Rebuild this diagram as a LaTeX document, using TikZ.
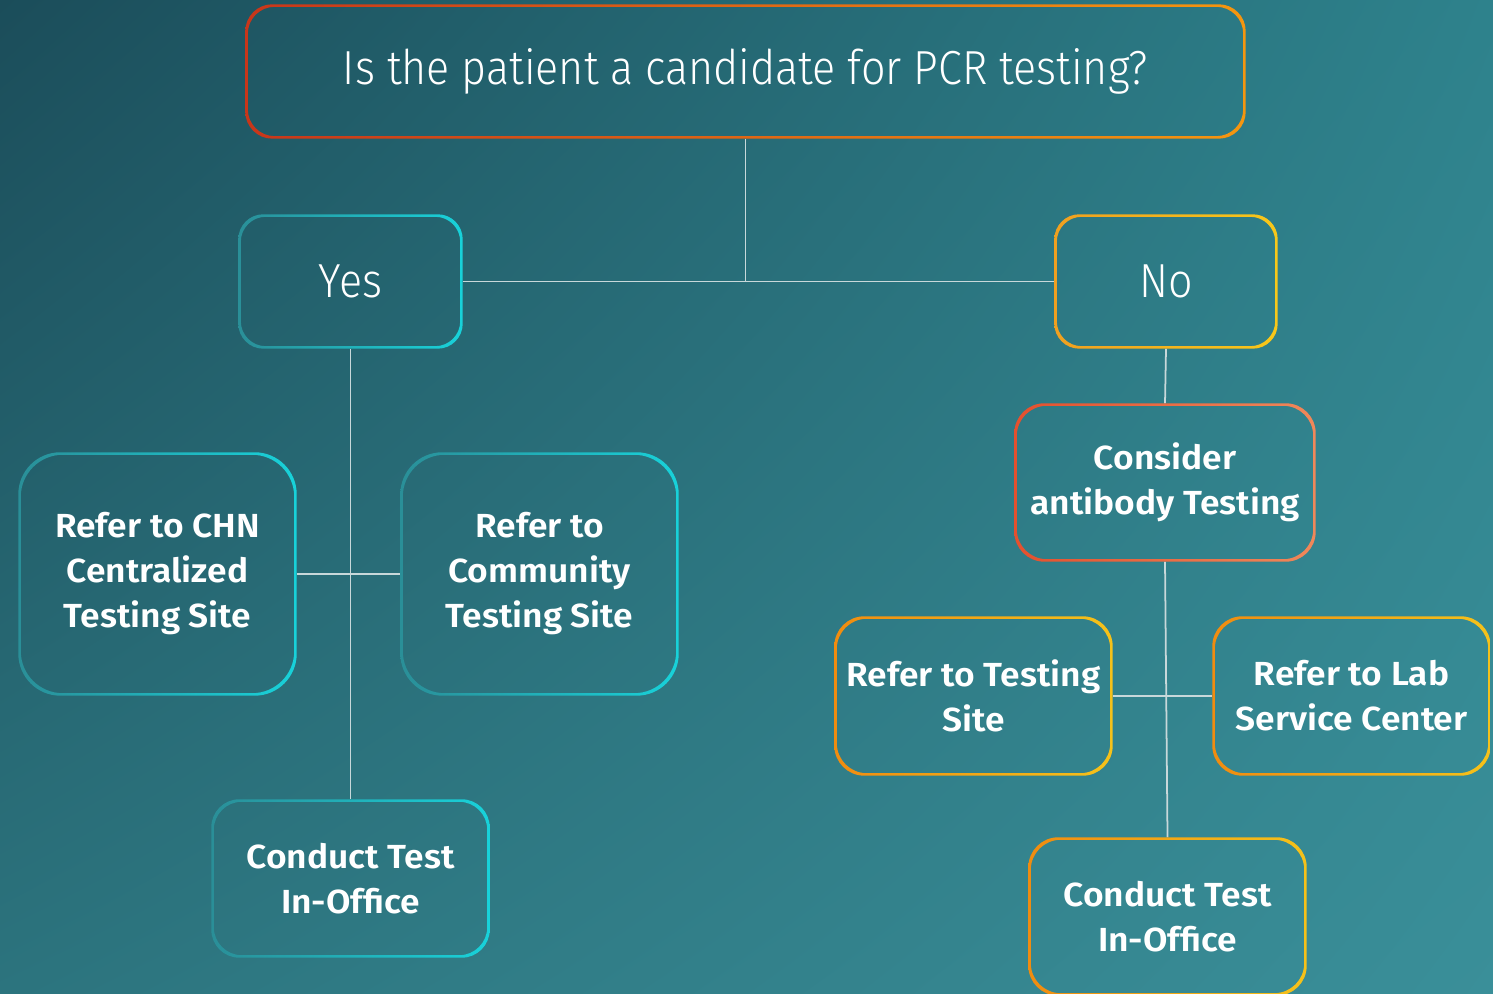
\documentclass[tikz,border=0pt]{standalone}
\usepackage{fontspec}
\setmainfont{Fira Sans}
\newfontfamily\lightfont[FakeStretch=0.9]{Fira Sans Light}
\newfontfamily\semifont[FakeStretch=1.06]{Fira Sans SemiBold}
\usetikzlibrary{positioning,shadings}
\definecolor{bgUL}{HTML}{1B4D5A}
\definecolor{bgUR}{HTML}{2E828C}
\definecolor{bgLL}{HTML}{2C747E}
\definecolor{bgLR}{HTML}{3A8F99}
\definecolor{askL}{HTML}{C8361A}
\definecolor{askR}{HTML}{F5960F}
\definecolor{cyanL}{HTML}{2A8F98}
\definecolor{cyanR}{HTML}{18D2DA}
\definecolor{noL}{HTML}{F0A020}
\definecolor{noR}{HTML}{F8C81A}
\definecolor{abL}{HTML}{E4502E}
\definecolor{abR}{HTML}{F0885A}
\definecolor{orL}{HTML}{F08C10}
\definecolor{orR}{HTML}{F5C21A}
\definecolor{linkgray}{HTML}{C8D8DA}
\tikzset{
  box/.style={rectangle, inner sep=0pt, text=white, align=center,
    font=\semifont\fontsize{9.5}{12.8}\selectfont},
  ask box/.style={box, font=\lightfont\fontsize{13.6}{16}\selectfont},
  link/.style={draw=linkgray, line width=0.5pt},
}

\begin{document}
\begin{tikzpicture}
  \useasboundingbox (0,0) rectangle (14.93,9.94);
  \shade[upper left=bgUL, upper right=bgUR, lower left=bgLL, lower right=bgLR]
    (0,0) rectangle (14.93,9.94);
  % question and answers
  \node[ask box, minimum width=9.99cm, minimum height=1.33cm] (ask) at (7.455,9.225)
    {Is the patient a candidate for PCR testing?};
  \node[ask box, minimum width=2.23cm, minimum height=1.33cm] (yes) at (3.505,7.125) {Yes};
  \node[ask box, minimum width=2.22cm, minimum height=1.33cm] (no)  at (11.66,7.125) {No};
  % yes branch
  \node[box, minimum width=2.77cm, minimum height=2.42cm] (chn)  at (1.575,4.20)
    {Refer to CHN\\Centralized\\Testing Site};
  \node[box, minimum width=2.77cm, minimum height=2.42cm] (comm) at (5.395,4.20)
    {Refer to\\Community\\Testing Site};
  \node[box, minimum width=2.77cm, minimum height=1.57cm] (offL) at (3.505,1.155)
    {Conduct Test\\In-Office};
  % no branch
  \node[box, minimum width=3.00cm, minimum height=1.57cm] (anti) at (11.65,5.115)
    {Consider\\antibody Testing};
  \node[box, minimum width=2.77cm, minimum height=1.58cm] (site) at (9.735,2.98)
    {Refer to Testing\\Site};
  \node[box, minimum width=2.77cm, minimum height=1.58cm] (lab)  at (13.515,2.98)
    {Refer to Lab\\Service Center};
  \node[box, minimum width=2.77cm, minimum height=1.57cm] (offR) at (11.675,0.775)
    {Conduct Test\\In-Office};
  % connectors
  \draw[link] (ask.south) -- (ask.south |- yes.east);
  \draw[link] (yes.east) -- (no.west);
  \draw[link] (yes.south) -- (offL.north);
  \draw[link] (chn.east) -- (comm.west);
  \draw[link] (no.south) -- (anti.north);
  \draw[link] (anti.south) -- (offR.north);
  \draw[link] (site.east) -- (lab.west);
  % gradient outlines
  \foreach \n/\rad/\ca/\cb in {ask/0.27/askL/askR, yes/0.25/cyanL/cyanR, no/0.25/noL/noR,
      chn/0.42/cyanL/cyanR, comm/0.42/cyanL/cyanR, offL/0.28/cyanL/cyanR,
      anti/0.30/abL/abR, site/0.30/orL/orR, lab/0.30/orL/orR, offR/0.30/orL/orR}{
    \shade[left color=\ca, right color=\cb, even odd rule, rounded corners=\rad cm]
      (\n.south west) rectangle (\n.north east)
      ([shift={(0.025,0.025)}]\n.south west) rectangle ([shift={(-0.025,-0.025)}]\n.north east);
  }
\end{tikzpicture}
\end{document}
